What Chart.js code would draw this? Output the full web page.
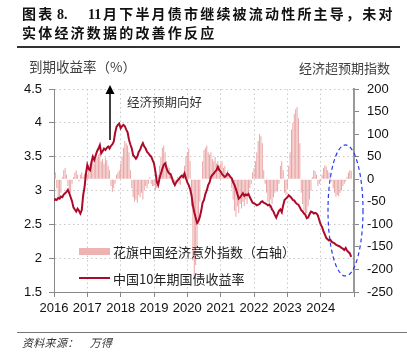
<!DOCTYPE html>
<html><head><meta charset="utf-8">
<script src="https://cdn.jsdelivr.net/npm/chart.js@4/dist/chart.umd.min.js"></script>
<style>
html,body{margin:0;padding:0;background:#fff;}
#wrap{position:relative;width:407px;height:357px;overflow:hidden;font-family:"Noto Sans CJK SC",sans-serif;color:#222;}
#c{position:absolute;left:0;top:0;}
.t{position:absolute;white-space:nowrap;line-height:1;}
.ttl{font-weight:bold;font-size:14px;color:#111;font-family:"Liberation Serif","Noto Sans CJK SC",serif;}
.cj{letter-spacing:2.2px;}
.rule{position:absolute;}
</style></head>
<body>
<div id="wrap">
  <canvas id="c" width="407" height="357"></canvas>
  <div class="t ttl" style="left:22px;top:8px;"><span class="cj">图表</span></div>
  <div class="t ttl" style="left:57px;top:8px;">8.</div>
  <div class="t ttl" style="left:88px;top:8px;">11</div>
  <div class="t ttl cj" style="left:103px;top:8px;">月下半月债市继续被流动性所主导，未对</div>
  <div class="t ttl cj" style="left:22px;top:27px;">实体经济数据的改善作反应</div>
  <div class="rule" style="left:17px;top:46px;width:383px;height:1.6px;background:#333;"></div>
  <div class="t" style="left:29px;top:60px;font-size:13.5px;color:#404040;">到期收益率（%）</div>
  <div class="t" style="left:299px;top:61px;font-size:13px;color:#404040;">经济超预期指数</div>
  <div class="t" style="left:127px;top:95.5px;font-size:12.5px;color:#333;">经济预期向好</div>
  <div class="rule" style="left:79px;top:248px;width:31px;height:7px;background:#EDB2B2;"></div>
  <div class="t" style="left:113px;top:245.2px;font-size:13px;color:#222;">花旗中国经济意外指数（右轴）</div>
  <div class="rule" style="left:79px;top:277px;width:31px;height:2px;background:#AD0A2A;"></div>
  <div class="t" style="left:113px;top:271.5px;font-size:13px;color:#222;">中国10年期国债收益率</div>
  <div class="rule" style="left:17px;top:332px;width:390px;height:1.4px;background:#777;"></div>
  <div class="t" style="left:22px;top:337px;font-size:11px;letter-spacing:0.3px;font-style:italic;color:#333;">资料来源：　万得</div>
</div>
<script>
// ---- data (semi-monthly observations starting Jan 2016) ----
const START_YEAR = 2016;
const POINTS_PER_YEAR = 24;
const xLabels = ["2016","2017","2018","2019","2020","2021","2022","2023","2024"];

// China 10Y government bond yield (%), left axis
const yieldValues = [
  2.85,2.87,2.86,2.89,2.88,2.91,2.90,2.94,2.96,2.98,3.01,2.96,2.90,2.84,2.75,2.72,2.69,2.73,2.70,2.66,2.71,2.93,3.05,3.25,
  3.38,3.32,3.30,3.42,3.50,3.45,3.52,3.58,3.62,3.67,3.55,3.58,3.62,3.60,3.63,3.65,3.62,3.66,3.68,3.72,3.85,3.94,3.97,3.99,
  3.92,3.95,3.97,3.95,3.90,3.86,3.75,3.68,3.62,3.52,3.50,3.47,3.50,3.57,3.60,3.66,3.70,3.65,3.62,3.57,3.55,3.52,3.50,3.45,
  3.40,3.28,3.13,3.08,3.18,3.25,3.32,3.38,3.40,3.33,3.28,3.25,3.24,3.18,3.12,3.08,3.12,3.15,3.17,3.20,3.22,3.20,3.25,3.18,
  3.12,3.08,3.02,2.93,2.78,2.68,2.60,2.52,2.55,2.61,2.70,2.82,2.86,2.95,3.00,3.08,3.12,3.20,3.23,3.25,3.28,3.30,3.35,3.30,
  3.28,3.24,3.22,3.20,3.22,3.25,3.23,3.20,3.18,3.12,3.08,3.02,2.95,2.88,2.90,2.93,2.96,2.92,2.94,2.93,2.95,2.90,2.86,2.82,
  2.81,2.80,2.78,2.79,2.80,2.83,2.84,2.82,2.81,2.80,2.78,2.79,2.77,2.72,2.69,2.64,2.60,2.65,2.70,2.72,2.68,2.78,2.86,2.88,
  2.90,2.93,2.91,2.89,2.86,2.85,2.82,2.80,2.79,2.75,2.71,2.69,2.66,2.64,2.59,2.60,2.65,2.69,2.68,2.66,2.67,2.66,2.63,2.56,
  2.50,2.46,2.40,2.35,2.30,2.28,2.26,2.27,2.24,2.23,2.22,2.20,2.19,2.18,2.17,2.15,2.14,2.12,2.15,2.11,2.09,2.07,2.02
];

// Citi China Economic Surprise Index, right axis
const esiValues = [
  10,15,-20,-40,-45,-30,5,20,25,10,-15,-25,-30,-10,5,15,20,10,-5,10,15,5,12,15,
  10,25,35,30,40,35,45,50,55,58,40,45,35,48,42,30,20,-15,-28,-20,-10,10,15,20,
  35,50,70,85,80,75,60,20,-20,-40,-50,-45,-52,-35,-40,-30,-45,-25,-15,-20,-10,5,-10,-15,
  -15,-25,-20,10,30,50,70,75,60,40,30,25,15,5,-10,-15,-5,5,-10,-12,5,15,30,50,
  60,68,40,-60,-180,-220,-190,-150,-100,-50,0,40,65,70,75,60,55,60,45,40,50,35,40,30,
  35,40,25,30,15,20,10,5,-20,-45,-70,-83,-60,-75,-55,-65,-50,-60,-45,-55,-35,-20,-10,15,
  25,40,60,85,100,95,80,20,-10,-30,-50,-64,-45,-55,-40,-30,-25,-28,-10,30,40,20,-30,-35,
  -20,30,60,110,125,145,155,160,135,80,-30,-55,-70,-83,-75,-60,-45,-25,5,20,18,10,-15,-10,
  -5,10,25,31,28,20,15,5,-5,-20,-30,-39,-35,-38,-30,-25,-15,-10,-5,5,15,20,18
];

// annotation anchors (in data units)
const ARROW = {x: 2017.68, from: 3.745, to: 4.56};
const ELLIPSE = {x: 2024.745, y: 2.705, rx: 0.525, ry: 0.968};

const xs = yieldValues.map((_, i) => START_YEAR + i / POINTS_PER_YEAR);

const annot = {
  id: 'annot',
  afterDatasetsDraw(chart) {
    const {ctx, scales: {x, yL}} = chart;
    ctx.save();
    const ax = x.getPixelForValue(ARROW.x);
    const y0 = yL.getPixelForValue(ARROW.from);
    const y1 = yL.getPixelForValue(ARROW.to);
    ctx.strokeStyle = '#000'; ctx.lineWidth = 1.5;
    ctx.beginPath(); ctx.moveTo(ax, y0); ctx.lineTo(ax, y1 + 7); ctx.stroke();
    ctx.fillStyle = '#000';
    ctx.beginPath(); ctx.moveTo(ax, y1); ctx.lineTo(ax - 4.5, y1 + 9); ctx.lineTo(ax + 4.5, y1 + 9); ctx.closePath(); ctx.fill();
    const cx = x.getPixelForValue(ELLIPSE.x);
    const cy = yL.getPixelForValue(ELLIPSE.y);
    const rx = x.getPixelForValue(ELLIPSE.x + ELLIPSE.rx) - cx;
    const ry = cy - yL.getPixelForValue(ELLIPSE.y + ELLIPSE.ry);
    ctx.strokeStyle = '#2a3cf0'; ctx.lineWidth = 1.2; ctx.setLineDash([4, 3]);
    ctx.beginPath(); ctx.ellipse(cx, cy, rx, ry, 0, 0, Math.PI * 2); ctx.stroke();
    ctx.restore();
  }
};

const tickFont = {family: 'Liberation Sans', size: 13};
const gridDash = [1.5, 3];

new Chart(document.getElementById('c'), {
  type: 'bar',
  data: {
    datasets: [
      {type: 'line', label: '中国10年期国债收益率', yAxisID: 'yL',
       data: xs.map((x, i) => ({x, y: yieldValues[i]})),
       borderColor: '#AD0A2A', borderWidth: 2, pointRadius: 0, tension: 0, order: 0},
      {type: 'bar', label: '花旗中国经济意外指数（右轴）', yAxisID: 'yR',
       data: xs.map((x, i) => ({x, y: esiValues[i]})),
       backgroundColor: '#E9A3A3', borderWidth: 0, barPercentage: 0.7, categoryPercentage: 1, order: 1}
    ]
  },
  options: {
    responsive: false, animation: false, devicePixelRatio: 1,
    layout: {padding: {top: 89, left: 0, right: 0, bottom: 0}},
    plugins: {legend: {display: false}, tooltip: {enabled: false}},
    scales: {
      x: {type: 'linear', min: 2016, max: 2025, offset: false,
          ticks: {stepSize: 1, autoSkip: false, maxRotation: 0, padding: 4, color: '#111', font: tickFont,
                  callback: v => xLabels.includes(String(v)) ? String(v) : ''},
          grid: {offset: false, color: '#c8c8c8', tickLength: 5, tickColor: '#888', tickWidth: 1},
          border: {color: '#888', width: 1, dash: gridDash},
          afterFit(s) { s.height = 65; }},
      yL: {position: 'left', min: 1.5, max: 4.5,
           ticks: {stepSize: 0.5, padding: 7, color: '#111', font: tickFont, callback: v => String(v)},
           grid: {color: '#c8c8c8', tickLength: 5, tickColor: '#888', tickWidth: 1},
           border: {color: '#888', width: 1, dash: gridDash},
           afterFit(s) { s.width = 54; }},
      yR: {position: 'right', min: -250, max: 200,
           ticks: {stepSize: 50, padding: 8, color: '#111', font: tickFont, callback: v => String(v)},
           grid: {drawOnChartArea: false, tickLength: 5, tickColor: '#888', tickWidth: 1},
           border: {color: '#999', width: 2},
           afterFit(s) { s.width = 53; }}
    }
  },
  plugins: [annot]
});
</script>
</body></html>
